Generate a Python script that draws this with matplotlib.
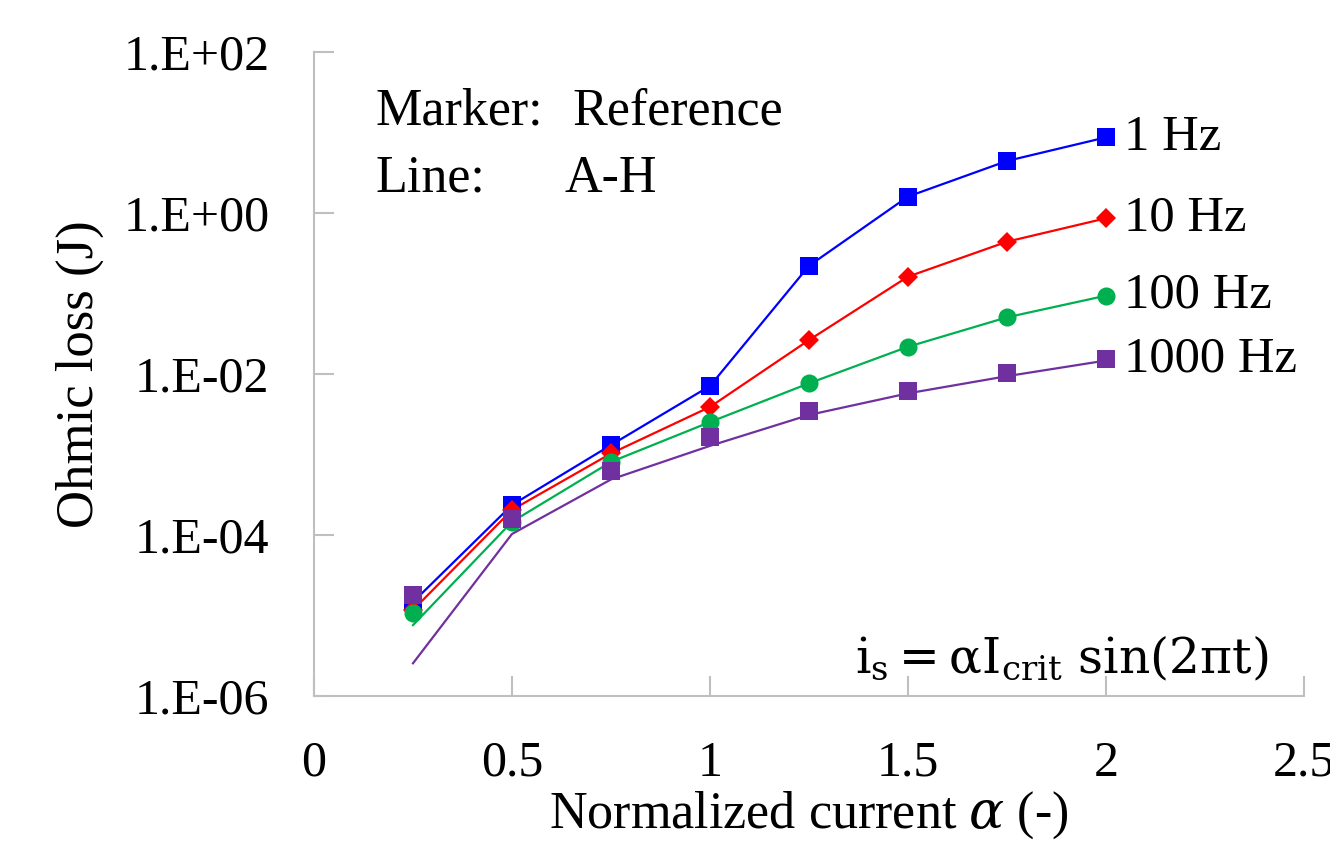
import matplotlib
matplotlib.use("Agg")
import matplotlib.pyplot as plt

plt.rcParams['font.family'] = ['Liberation Serif', 'DejaVu Serif']
plt.rcParams['mathtext.fontset'] = 'dejavuserif'

# normalized current
alpha = [0.25, 0.5, 0.75, 1.0, 1.25, 1.5, 1.75, 2.0]

freqs = ['1 Hz', '10 Hz', '100 Hz', '1000 Hz']

# reference model (markers)
ref_1 = [1.47e-5, 2.36e-4, 1.31e-3, 7.1e-3, 0.221, 1.6, 4.43, 8.7]
ref_10 = [1.17e-5, 2.05e-4, 1.03e-3, 3.9e-3, 0.0264, 0.162, 0.44, 0.86]
ref_100 = [1.06e-5, 1.46e-4, 8.1e-4, 2.53e-3, 7.66e-3, 0.0218, 0.0506, 0.094]
ref_1000 = [1.8e-5, 1.58e-4, 6.2e-4, 1.65e-3, 3.5e-3, 6.2e-3, 0.0102, 0.0154]

# A-H model (lines)
ah_1 = [1.47e-5, 2.36e-4, 1.31e-3, 7.1e-3, 0.221, 1.6, 4.43, 8.7]
ah_10 = [1.17e-5, 2.05e-4, 1.03e-3, 3.9e-3, 0.0264, 0.162, 0.44, 0.86]
ah_100 = [7.6e-6, 1.46e-4, 8.1e-4, 2.53e-3, 7.66e-3, 0.0218, 0.0506, 0.094]
ah_1000 = [2.55e-6, 1.03e-4, 4.9e-4, 1.28e-3, 3.1e-3, 5.75e-3, 9.4e-3, 0.0147]

xticks = [0, 0.5, 1, 1.5, 2, 2.5]
xtick_labels = ['0', '0.5', '1', '1.5', '2', '2.5']
yticks = [1e-6, 1e-4, 1e-2, 1e0, 1e2]
ytick_labels = ['1.E-06', '1.E-04', '1.E-02', '1.E+00', '1.E+02']

refs = [ref_1, ref_10, ref_100, ref_1000]
lines = [ah_1, ah_10, ah_100, ah_1000]
colors = ['#0000FF', '#FF0000', '#00B050', '#7030A0']
markers = ['s', 'D', 'o', 's']
msizes = [13, 10, 13, 13]

fig = plt.figure(figsize=(13.3, 8.42), dpi=100)
ax = fig.add_axes([314/1330, 1 - 696/842, 990/1330, 644/842])

for r, l, c, m, ms, name in zip(refs, lines, colors, markers, msizes, freqs):
    ax.plot(alpha, l, color=c, lw=1.6, zorder=2)
    ax.plot(alpha, r, linestyle='none', marker=m, ms=ms, color=c,
            markeredgewidth=0, zorder=3)
    ax.annotate(name, xy=(alpha[-1], r[-1]), xytext=(13, 0),
                textcoords='offset points', ha='left', va='center',
                fontsize=36.5)

ax.set_yscale('log')
ax.set_xlim(0, 2.5)
ax.set_ylim(1e-6, 1e2)
ax.set_xticks(xticks)
ax.set_xticklabels(xtick_labels)
ax.set_yticks(yticks)
ax.set_yticklabels(ytick_labels)
ax.minorticks_off()

for s in ['top', 'right']:
    ax.spines[s].set_visible(False)
for s in ['left', 'bottom']:
    ax.spines[s].set_color('#BFBFBF')
    ax.spines[s].set_linewidth(1.5)

ax.tick_params(axis='both', direction='in', length=14.5, width=1.5,
               color='#BFBFBF', labelsize=36)
ax.tick_params(axis='x', pad=32)
ax.tick_params(axis='y', pad=32)

ax.set_xlabel(r'Normalized current $\alpha$ (-)', fontsize=37.5, labelpad=2)
ax.set_ylabel('Ohmic loss (J)', fontsize=38, labelpad=14)

ax.text(0.0626, 0.887, 'Marker:', transform=ax.transAxes, fontsize=37.5,
        va='baseline')
ax.text(0.261, 0.887, 'Reference', transform=ax.transAxes, fontsize=37.5,
        va='baseline')
ax.text(0.0626, 0.783, 'Line:', transform=ax.transAxes, fontsize=37.5,
        va='baseline')
ax.text(0.253, 0.783, 'A-H', transform=ax.transAxes, fontsize=37.5,
        va='baseline')

ax.text(0.9636, 0.037, r'$\mathrm{i_s = \alpha I_{crit}\ sin(2\pi t)}$',
        transform=ax.transAxes, fontsize=35, ha='right', va='baseline')

fig.savefig('out.png', dpi=100)
